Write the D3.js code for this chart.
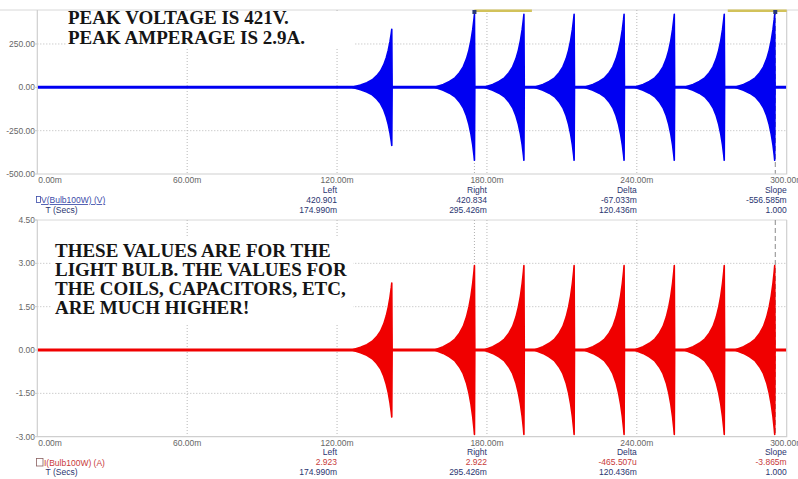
<!DOCTYPE html>
<html>
<head>
<meta charset="utf-8">
<script src="https://cdn.jsdelivr.net/npm/d3@7"></script>
<style>
  body { margin: 0; background: #fff; }
  text { font-family: "Liberation Sans", Arial, sans-serif; }
  .note { font-family: "Liberation Serif", "Times New Roman", serif; font-weight: bold; font-size: 19px; fill: #151515; }
</style>
</head>
<body>
<div id="chart"></div>
<script>
// time axis (ms)
const timeTicks = [0, 60, 120, 180, 240, 300];
const timeLabels = ["0.00m", "60.00m", "120.00m", "180.00m", "240.00m", "300.00m"];
const voltTicks = [-500, -250, 0, 250];
const voltLabels = ["-500.00", "-250.00", "0.00", "250.00"];
const ampTicks = [-3, -1.5, 0, 1.5, 3, 4.5];
const ampLabels = ["-3.00", "-1.50", "0.00", "1.50", "3.00", "4.50"];

// burst peaks
const burstTimes = [141.9, 175.0, 194.8, 214.9, 234.9, 255.0, 275.0, 295.2];
const burstVolts = [335, 421, 421, 421, 421, 421, 421, 421];
const burstAmps = [2.32, 2.92, 2.92, 2.92, 2.92, 2.92, 2.92, 2.92];

// envelope of one burst: ms relative to peak, fraction of peak
const envOffset = [-16, -12.5, -10, -7.8, -6, -4.5, -3.2, -2.2, -1.4, -0.7, -0.2, 0, 0.15];
const envFraction = [0, 0.04, 0.08, 0.13, 0.2, 0.28, 0.39, 0.51, 0.64, 0.79, 0.93, 1, 0];

// cursors
const cursorTimes = [174.99, 295.426];
const readHeads = ["Left", "Right", "Delta", "Slope"];
const voltReadout = ["420.901", "420.834", "-67.033m", "-556.585m"];
const ampReadout = ["2.923", "2.922", "-465.507u", "-3.865m"];
const timeReadout = ["174.990m", "295.426m", "120.436m", "1.000"];

const W = 798, H = 479;
const svg = d3.select("#chart").append("svg")
    .attr("width", W)
    .attr("height", H);

const x = d3.scaleLinear().domain([0, 300]).range([37.3, 786.7]);
const yV = d3.scaleLinear().domain([-500, 446]).range([174, 10]);
const yA = d3.scaleLinear().domain([-3, 4.5]).range([436.7, 220]);

function envelope(times, peaks) {
    const pts = [];
    times.forEach((t, i) => {
        envOffset.forEach((o, j) => pts.push({t: t + o, a: peaks[i] * envFraction[j]}));
    });
    return pts;
}

function drawPanel(y, ticks, labels, peaks, color, box0, box1) {
    const g = svg.append("g");
    const x0 = x.range()[0], x1 = x.range()[1];
    const top = y.range()[1], bot = y.range()[0];

    // horizontal grid
    g.selectAll(".hg").data(ticks.filter(d => y(d) > top + 2 && y(d) < bot - 2))
        .enter().append("line")
        .attr("x1", x0).attr("x2", x1)
        .attr("y1", d => y(d)).attr("y2", d => y(d))
        .attr("stroke", "#b8b8b8").attr("stroke-dasharray", "1,2");
    // vertical grid
    g.selectAll(".vg").data(timeTicks.slice(1, -1))
        .enter().append("line")
        .attr("x1", d => x(d)).attr("x2", d => x(d))
        .attr("y1", top).attr("y2", bot)
        .attr("stroke", "#b8b8b8").attr("stroke-dasharray", "1,2");
    // left cursor
    g.append("line")
        .attr("x1", x(cursorTimes[0])).attr("x2", x(cursorTimes[0]))
        .attr("y1", top).attr("y2", bot)
        .attr("stroke", "#b0b0b0").attr("stroke-dasharray", "1,2");
    // right cursor
    g.append("line")
        .attr("x1", x(cursorTimes[1])).attr("x2", x(cursorTimes[1]))
        .attr("y1", top).attr("y2", bot)
        .attr("stroke", "#8a8a8a").attr("stroke-dasharray", "5,3");

    // white box behind note text
    g.append("rect")
        .attr("x", box0[0]).attr("y", box0[1])
        .attr("width", box1[0] - box0[0]).attr("height", box1[1] - box0[1])
        .attr("fill", "#fff");

    // trace
    const pts = envelope(burstTimes, peaks);
    g.append("path")
        .datum(pts)
        .attr("d", d3.area().x(d => x(d.t)).y0(d => y(-d.a)).y1(d => y(d.a)))
        .attr("fill", color)
        .attr("stroke", color)
        .attr("stroke-width", 1.6)
        .attr("stroke-linejoin", "round");
    g.append("line")
        .attr("x1", x(0)).attr("x2", x(300))
        .attr("y1", y(0)).attr("y2", y(0))
        .attr("stroke", color).attr("stroke-width", 3);

    // frame
    g.append("path")
        .attr("d", `M${x0},${top}V${bot}H${x1}V${top}`)
        .attr("fill", "none").attr("stroke", "#cfcfcf").attr("stroke-width", 1.2);

    // y labels
    g.selectAll(".yl").data(ticks)
        .enter().append("text")
        .attr("x", 35).attr("y", d => y(d))
        .attr("dy", "0.35em")
        .attr("text-anchor", "end")
        .attr("font-size", 8.5)
        .attr("fill", "#666")
        .text((d, i) => labels[i]);
    g.selectAll(".yt").data(ticks)
        .enter().append("line")
        .attr("x1", 33).attr("x2", x0)
        .attr("y1", d => y(d)).attr("y2", d => y(d))
        .attr("stroke", "#ccc");

    // x labels
    g.selectAll(".xl").data(timeTicks)
        .enter().append("text")
        .attr("x", (d, i) => i === 0 ? x(d) + 1 : x(d))
        .attr("y", bot + 9)
        .attr("text-anchor", (d, i) => i === 0 ? "start" : "middle")
        .attr("font-size", 8.5)
        .attr("fill", "#666")
        .text((d, i) => timeLabels[i]);
    return g;
}

// panels
svg.append("line").attr("x1", 0).attr("x2", W).attr("y1", 10).attr("y2", 10)
    .attr("stroke", "#d8d8d8");
drawPanel(yV, voltTicks, voltLabels, burstVolts, "#0000f2", [66, 11], [354, 47]);
svg.append("line").attr("x1", 35).attr("x2", 787).attr("y1", 220).attr("y2", 220)
    .attr("stroke", "#d8d8d8");
drawPanel(yA, ampTicks, ampLabels, burstAmps, "#f00000", [52, 238], [353, 325]);

// cursor marks at the top of the voltage panel
svg.append("rect").attr("x", x(cursorTimes[0])).attr("y", 9.5)
    .attr("width", x(198) - x(cursorTimes[0])).attr("height", 2.5).attr("fill", "#d2c25a");
svg.append("rect").attr("x", x(276.4)).attr("y", 9.5)
    .attr("width", x(300) - x(276.4)).attr("height", 2.5).attr("fill", "#d2c25a");
cursorTimes.forEach(t => {
    svg.append("rect").attr("x", x(t) - 2).attr("y", 10).attr("width", 4).attr("height", 4)
        .attr("fill", "#2b3a78");
});

// readouts
function readout(y0, values, valueColor) {
    const xs = timeTicks.slice(2);
    svg.selectAll(null).data(readHeads).enter().append("text")
        .attr("x", (d, i) => x(xs[i])).attr("y", y0)
        .attr("text-anchor", "end").attr("font-size", 8.5).attr("fill", "#2a3570")
        .text(d => d);
    svg.selectAll(null).data(values).enter().append("text")
        .attr("x", (d, i) => x(xs[i])).attr("y", y0 + 10)
        .attr("text-anchor", "end").attr("font-size", 8.5).attr("fill", valueColor)
        .text(d => d);
    svg.selectAll(null).data(timeReadout).enter().append("text")
        .attr("x", (d, i) => x(xs[i])).attr("y", y0 + 19.5)
        .attr("text-anchor", "end").attr("font-size", 8.5).attr("fill", "#2a3570")
        .text(d => d);
    svg.append("text").attr("x", 45.5).attr("y", y0 + 19.5)
        .attr("font-size", 8.5).attr("fill", "#2a3570").text("T (Secs)");
}
readout(193, voltReadout, "#2a3570");
readout(455, ampReadout, "#c83a3a");

// legend entries
const lg = svg.append("g");
lg.append("rect").attr("x", 36.5).attr("y", 196.5).attr("width", 4).attr("height", 6)
    .attr("fill", "none").attr("stroke", "#3a4aa8").attr("stroke-width", 0.8);
lg.append("text").attr("x", 41).attr("y", 203)
    .attr("font-size", 8.5).attr("fill", "#3a4aa8")
    .attr("text-decoration", "underline").text("V(Bulb100W) (V)");
lg.append("rect").attr("x", 36.5).attr("y", 458.5).attr("width", 6.5).attr("height", 7.5)
    .attr("fill", "none").attr("stroke", "#8a6060").attr("stroke-width", 0.8);
lg.append("text").attr("x", 44).attr("y", 465.5)
    .attr("font-size", 8.5).attr("fill", "#c83a3a").text("I(Bulb100W) (A)");

// notes
const notesTop = ["PEAK VOLTAGE IS 421V.", "PEAK AMPERAGE IS 2.9A."];
const notesBottom = ["THESE VALUES ARE FOR THE", "LIGHT BULB. THE VALUES FOR",
    "THE COILS, CAPACITORS, ETC,", "ARE MUCH HIGHER!"];
svg.selectAll(".nt").data(notesTop).enter().append("text")
    .attr("class", "note").attr("x", 68).attr("y", (d, i) => 24 + i * 19.5).text(d => d);
svg.selectAll(".nb").data(notesBottom).enter().append("text")
    .attr("class", "note").attr("x", 55).attr("y", (d, i) => 257 + i * 19).text(d => d);
</script>
</body>
</html>
